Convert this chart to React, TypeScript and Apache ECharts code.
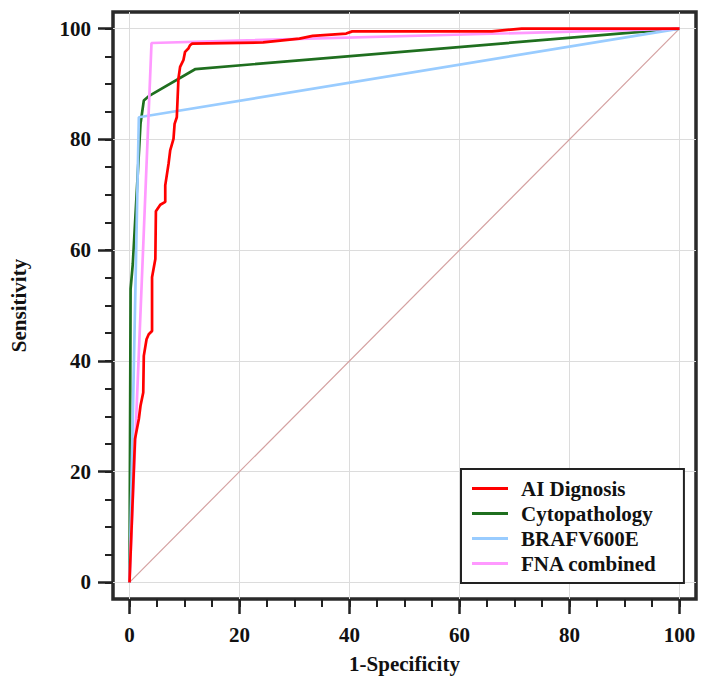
import React, { useEffect, useRef } from "react";
import * as echarts from "echarts";

const legendNames = ["AI Dignosis", "Cytopathology", "BRAFV600E", "FNA combined"];
const seriesColors = ["#ff0000", "#1f6f1f", "#99ccff", "#ff99ff"];

const aiFpr = [0, 1.0, 1.7, 2.0, 2.5, 2.6, 3.1, 3.5, 4.1, 4.1, 4.7, 4.8, 5.6, 6.5, 6.5, 7.1, 7.4, 8.0, 8.2, 8.6, 8.9, 9.2, 9.8, 10.1, 10.7, 11.0, 11.4, 24.3, 30.9, 33.3, 39.4, 40.5, 65.9, 71.3, 100];
const aiSens = [0, 25.9, 29.5, 31.9, 34.3, 40.9, 43.9, 44.8, 45.4, 55.1, 58.4, 67.0, 68.2, 68.7, 71.7, 75.6, 78.0, 80.1, 82.8, 84.0, 91.0, 93.1, 94.3, 95.8, 96.4, 97.0, 97.3, 97.5, 98.2, 98.7, 99.1, 99.5, 99.5, 100, 100];

const cytoFpr = [0, 0.2, 0.6, 2.0, 2.6, 3.5, 12.0, 100];
const cytoSens = [0, 53, 57.5, 82.8, 87, 87.8, 92.7, 100];

const brafFpr = [0, 1.7, 100];
const brafSens = [0, 84, 100];

const fnaFpr = [0, 4.0, 100];
const fnaSens = [0, 97.4, 100];

const diagFpr = [0, 100];
const diagSens = [0, 100];

const majorTicks = [0, 20, 40, 60, 80, 100];
const minorTicks = [0, 5, 10, 15, 20, 25, 30, 35, 40, 45, 50, 55, 60, 65, 70, 75, 80, 85, 90, 95, 100];

const pairs = (xs: number[], ys: number[]) => xs.map((x, i) => [x, ys[i]]);

const FONT = '"Liberation Serif", "Times New Roman", serif';

export default function App() {
  const ref = useRef<HTMLDivElement>(null);
  useEffect(() => {
    if (!ref.current) return;
    const chart = echarts.init(ref.current, null, { renderer: "svg" });
    const labelStyle = { fontFamily: FONT, fontWeight: "bold" as const, fontSize: 21, color: "#111" };
    const majorAxis = (dim: "x" | "y") => ({
      type: "value",
      min: -3,
      max: 103,
      position: dim === "x" ? "bottom" : "left",
      axisLine: { show: false, onZero: false },
      axisTick: { show: true, inside: false, length: 15, customValues: majorTicks, lineStyle: { color: "#222", width: 2.5 } },
      axisLabel: { customValues: majorTicks, ...labelStyle, margin: dim === "x" ? 25 : 22 },
      splitLine: { show: true, lineStyle: { color: "#dcdcdc", width: 1 } },
      name: dim === "x" ? "1-Specificity" : "Sensitivity",
      nameLocation: "middle",
      nameGap: dim === "x" ? 54 : 84,
      nameTextStyle: { ...labelStyle },
    });
    const minorAxis = (dim: "x" | "y") => ({
      type: "value",
      min: -3,
      max: 103,
      position: dim === "x" ? "bottom" : "left",
      axisLine: { show: false, onZero: false },
      axisTick: { show: true, inside: false, length: 8, customValues: minorTicks, lineStyle: { color: "#222", width: 2 } },
      axisLabel: { show: false },
      splitLine: { show: false },
    });
    const lineSeries = (name: string, xs: number[], ys: number[], color: string, width: number) => ({
      name,
      type: "line",
      data: pairs(xs, ys),
      symbol: "none",
      showSymbol: false,
      xAxisIndex: 0,
      yAxisIndex: 0,
      lineStyle: { color, width },
      itemStyle: { color },
      emphasis: { disabled: true },
    });
    chart.setOption({
      animation: false,
      backgroundColor: "#fff",
      grid: {
        left: 113,
        top: 12,
        right: 6,
        bottom: 81,
        show: true,
        borderColor: "#2a2a2a",
        borderWidth: 3.5,
        backgroundColor: "transparent",
        containLabel: false,
      },
      xAxis: [majorAxis("x"), minorAxis("x")],
      yAxis: [majorAxis("y"), minorAxis("y")],
      legend: {
        data: legendNames,
        orient: "vertical",
        left: 461,
        top: 469,
        backgroundColor: "#fff",
        borderColor: "#222",
        borderWidth: 2,
        borderRadius: 0,
        padding: [9, 27, 9, 11],
        icon: "rect",
        itemWidth: 36,
        itemHeight: 3,
        itemGap: 4,
        textStyle: { ...labelStyle, lineHeight: 21, padding: [0, 0, 0, 8] },
        selectedMode: false,
      },
      series: [
        {
          name: "diag",
          type: "line",
          data: pairs(diagFpr, diagSens),
          symbol: "none",
          lineStyle: { color: "#d4a0a0", width: 1.2 },
          emphasis: { disabled: true },
          silent: true,
        },
        lineSeries(legendNames[1], cytoFpr, cytoSens, seriesColors[1], 2.7),
        lineSeries(legendNames[2], brafFpr, brafSens, seriesColors[2], 2.7),
        lineSeries(legendNames[3], fnaFpr, fnaSens, seriesColors[3], 2.7),
        lineSeries(legendNames[0], aiFpr, aiSens, seriesColors[0], 2.7),
      ],
    });
    return () => chart.dispose();
  }, []);
  return <div ref={ref} style={{ position: "fixed", left: 0, top: 0, width: 702, height: 680 }} />;
}
